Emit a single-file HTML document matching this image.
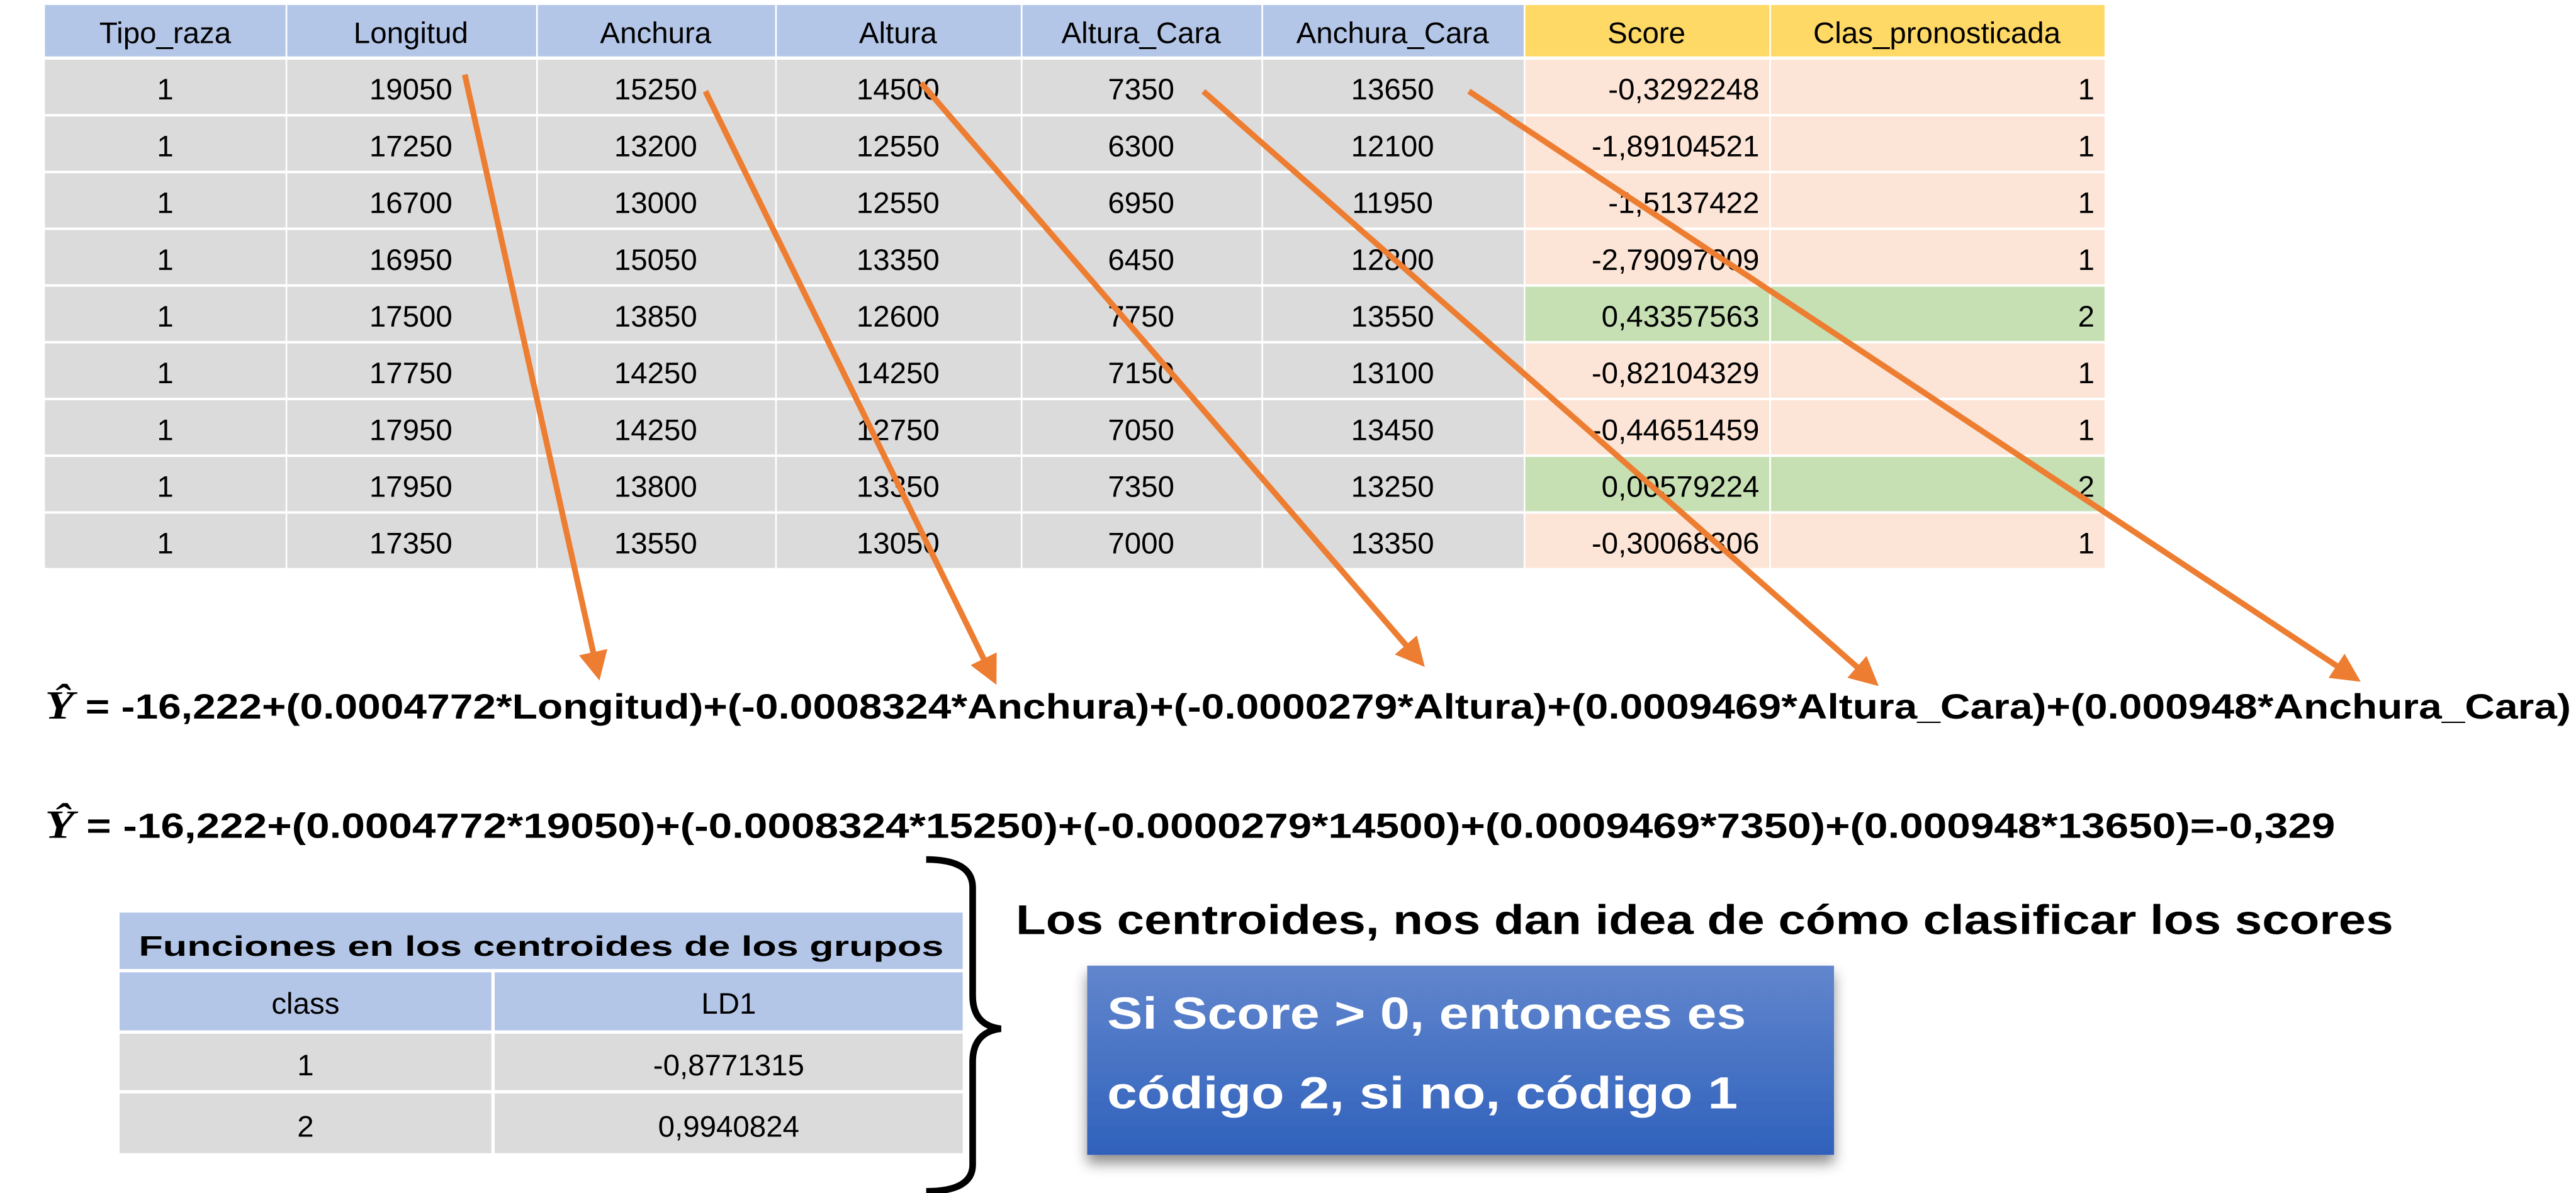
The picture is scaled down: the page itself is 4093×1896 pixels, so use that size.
<!DOCTYPE html>
<html><head><meta charset="utf-8"><style>
html,body{margin:0;padding:0;background:#fff;}
svg{display:block;}
text{font-family:"Liberation Sans",sans-serif;}
</style></head><body>
<svg width="4093" height="1896" viewBox="0 0 1552 719" xmlns="http://www.w3.org/2000/svg">
<defs>
<linearGradient id="bg" x1="0" y1="0" x2="0" y2="1"><stop offset="0" stop-color="#6286CD"/><stop offset="1" stop-color="#2F61BC"/></linearGradient>
<filter id="sh" x="-10%" y="-10%" width="125%" height="140%"><feDropShadow dx="0" dy="5" stdDeviation="4" flood-color="#000" flood-opacity="0.45"/></filter>
<marker id="ah" markerWidth="5" markerHeight="5" refX="3.5" refY="2.5" orient="auto" markerUnits="strokeWidth"><path d="M0,0 L5,2.5 L0,5 Z" fill="#ED7D31"/></marker>
</defs>
<g id="main-table"></g>
<g id="arrows"></g>
<g>
<text x="27" y="433" font-size="21" font-weight="bold" textLength="1522" lengthAdjust="spacingAndGlyphs"><tspan font-family="Liberation Serif" font-style="italic" font-size="24">Ŷ</tspan> =  -16,222+(0.0004772*Longitud)+(-0.0008324*Anchura)+(-0.0000279*Altura)+(0.0009469*Altura_Cara)+(0.000948*Anchura_Cara)</text>
</g>
<g>
<text x="27" y="505" font-size="21" font-weight="bold" textLength="1380" lengthAdjust="spacingAndGlyphs"><tspan font-family="Liberation Serif" font-style="italic" font-size="24">Ŷ</tspan> =  -16,222+(0.0004772*19050)+(-0.0008324*15250)+(-0.0000279*14500)+(0.0009469*7350)+(0.000948*13650)=-0,329</text>
</g>
<g>
<rect x="72" y="550" width="508" height="34" fill="#B4C6E7"/>
<text x="326" y="576" font-size="17" font-weight="bold" text-anchor="middle" textLength="485" lengthAdjust="spacingAndGlyphs">Funciones en los centroides de los grupos</text>
<rect x="72" y="586" width="224" height="35" fill="#B4C6E7"/>
<rect x="298" y="586" width="282" height="35" fill="#B4C6E7"/>
<text x="184" y="611" font-size="18" text-anchor="middle">class</text>
<text x="439" y="611" font-size="18" text-anchor="middle">LD1</text>
<rect x="72" y="623" width="224" height="34" fill="#DBDBDB"/>
<rect x="298" y="623" width="282" height="34" fill="#DBDBDB"/>
<text x="184" y="648" font-size="18" text-anchor="middle">1</text>
<text x="439" y="648" font-size="18" text-anchor="middle">-0,8771315</text>
<rect x="72" y="659" width="224" height="36" fill="#DBDBDB"/>
<rect x="298" y="659" width="282" height="36" fill="#DBDBDB"/>
<text x="184" y="685" font-size="18" text-anchor="middle">2</text>
<text x="439" y="685" font-size="18" text-anchor="middle">0,9940824</text>
</g>
<path d="M558,518 Q586,518 586,535 L586,600 Q586,618 603,620 Q586,622 586,640 L586,702 Q586,718 558,718" fill="none" stroke="#000" stroke-width="4"/>
<text x="612" y="563" font-size="25" font-weight="bold" textLength="830" lengthAdjust="spacingAndGlyphs">Los centroides, nos dan idea de cómo clasificar los scores</text>
<g>
<rect x="655" y="582" width="450" height="114" fill="url(#bg)" filter="url(#sh)"/>
<text x="667" y="620" font-size="27" font-weight="bold" fill="#fff" textLength="385" lengthAdjust="spacingAndGlyphs">Si Score &gt; 0, entonces es</text>
<text x="667" y="668" font-size="27" font-weight="bold" fill="#fff" textLength="380" lengthAdjust="spacingAndGlyphs">código 2, si no, código 1</text>
</g>
</svg>
<script>
const headers = ["Tipo_raza","Longitud","Anchura","Altura","Altura_Cara","Anchura_Cara","Score","Clas_pronosticada"];
const tipo = [1,1,1,1,1,1,1,1,1];
const longitud = [19050,17250,16700,16950,17500,17750,17950,17950,17350];
const anchura = [15250,13200,13000,15050,13850,14250,14250,13800,13550];
const altura = [14500,12550,12550,13350,12600,14250,12750,13350,13050];
const alturaCara = [7350,6300,6950,6450,7750,7150,7050,7350,7000];
const anchuraCara = [13650,12100,11950,12800,13550,13100,13450,13250,13350];
const scores = ["-0,3292248","-1,89104521","-1,5137422","-2,79097009","0,43357563","-0,82104329","-0,44651459","0,00579224","-0,30068306"];
const clas = [1,1,1,1,2,1,1,2,1];

const NS = "http://www.w3.org/2000/svg";
const colX = [27,172,323,467,615,760,918,1066,1268];
const headTop = 3, headH = 31, rowTop = 36, rowH = 34.2;
const tbl = document.getElementById('main-table');
function mk(tag, attrs, parent){const e=document.createElementNS(NS,tag);for(const k in attrs)e.setAttribute(k,attrs[k]);parent.appendChild(e);return e;}
headers.forEach((h,i)=>{
  const fill = i>=6 ? "#FFD966" : "#B4C6E7";
  const r = mk('rect',{x:colX[i]+(i?1:0),y:headTop,width:colX[i+1]-colX[i]-(i?1:0),height:headH,fill:fill},tbl);
  
  
  const t = mk('text',{x:(colX[i]+colX[i+1])/2,y:headTop+23,'font-size':18,'text-anchor':'middle'},tbl);
  
  
  t.textContent = h;
});
const cols = [tipo,longitud,anchura,altura,alturaCara,anchuraCara,scores,clas];
for(let r=0;r<tipo.length;r++){
  const y = rowTop + r*rowH;
  cols.forEach((arr,i)=>{
    let fill = "#DBDBDB";
    if(i>=6) fill = clas[r]===2 ? "#C6E0B4" : "#FCE4D6";
    const c = mk('rect',{x:colX[i]+(i?1:0),y:y,width:colX[i+1]-colX[i]-(i?1:0),height:rowH-1.5,fill:fill},tbl);
    
    
    const right = i>=6;
    const t = mk('text',{x: right ? colX[i+1]-6 : (colX[i]+colX[i+1])/2, y:y+24,'font-size':18,'text-anchor': right?'end':'middle'},tbl);
    
    
    t.textContent = String(arr[r]);
  });
}
const arrowStarts = [[280,45],[425,55],[555,50],[725,55],[885,55]];
const arrowEnds = [[360,405],[598,408],[855,398],[1128,410],[1418,408]];
const ag = document.getElementById('arrows');
arrowStarts.forEach((s,i)=>{
  const l = mk('line',{x1:s[0],y1:s[1],x2:arrowEnds[i][0],y2:arrowEnds[i][1],stroke:"#ED7D31",'stroke-width':3.5,'marker-end':'url(#ah)'},ag);
  
  
});
</script>
</body></html>
